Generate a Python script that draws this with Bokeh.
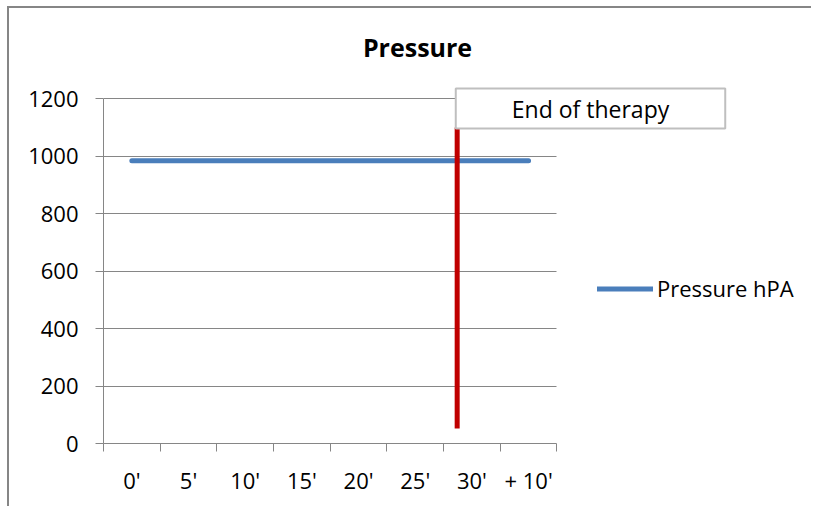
from bokeh.plotting import figure
from bokeh.models import (FixedTicker, Label, Legend, LegendItem, Range1d,
                          CustomJSTickFormatter)
from bokeh.embed import file_html
from bokeh.resources import INLINE

# ---- data ----
categories = ["0'", "5'", "10'", "15'", "20'", "25'", "30'", "+ 10'"]
pressure_hpa = [984, 984, 984, 984, 984, 984, 984, 984]
y_ticks = [0, 200, 400, 600, 800, 1000, 1200]
end_of_therapy_x = [5.74]      # between 25' and 30'
end_of_therapy_y0 = [52]
end_of_therapy_y1 = [1100]
series_name = "Pressure hPA"
chart_title = "Pressure"
marker_text = "End of therapy"

FONT = "Open Sans"
GRAY = "#868686"

n = len(categories)
xs = list(range(n))
x_lo, x_hi = -0.5, n - 0.5
y_lo, y_hi = y_ticks[0], y_ticks[-1]

# The frame spans the whole chart area (title, note box and legend live inside it);
# axes and grid are bounded to the data area.
p = figure(width=804, height=500, output_backend="svg", toolbar_location=None,
           title=None,
           x_range=Range1d(x_lo, 12.027), y_range=Range1d(y_lo, 1514),
           min_border_left=94, min_border_right=0, min_border_top=0,
           min_border_bottom=65)
p.styles = {"border-top": "2px solid #868686", "border-left": "2px solid #868686"}
p.margin = (6, 0, 0, 7)
p.outline_line_color = None
p.background_fill_color = "white"
p.border_fill_color = "white"

# grid
p.xgrid.grid_line_color = None
p.ygrid.ticker = FixedTicker(ticks=y_ticks)
p.ygrid.grid_line_color = GRAY
p.ygrid.grid_line_width = 1
if "cross_bounds" in p.ygrid[0].properties():
    p.ygrid.cross_bounds = (x_lo, x_hi)
else:
    p.ygrid.grid_line_color = None
    p.segment(x0=[x_lo] * len(y_ticks), y0=y_ticks, x1=[x_hi] * len(y_ticks),
              y1=y_ticks, line_color=GRAY, line_width=1)

# y axis
p.yaxis.ticker = FixedTicker(ticks=y_ticks)
p.yaxis.bounds = (y_lo, y_hi)
p.yaxis.axis_line_color = GRAY
p.yaxis.major_tick_line_color = GRAY
p.yaxis.major_tick_out = 8
p.yaxis.major_tick_in = 0
p.yaxis.minor_tick_line_color = None
p.yaxis.major_label_text_font = FONT
p.yaxis.major_label_text_font_size = "22px"
p.yaxis.major_label_text_color = "black"
p.yaxis.major_label_standoff = 17

# x axis: labels at category centres, tick marks at boundaries
bounds = [i - 0.5 for i in range(n + 1)]
p.xaxis.ticker = FixedTicker(ticks=xs, minor_ticks=bounds)
p.xaxis.bounds = (x_lo, x_hi)
p.xaxis.formatter = CustomJSTickFormatter(args=dict(labels=categories),
                                          code="return labels[Math.round(tick)]")
p.xaxis.axis_line_color = GRAY
p.xaxis.major_tick_line_color = None
p.xaxis.major_tick_out = 0
p.xaxis.major_tick_in = 0
p.xaxis.minor_tick_line_color = GRAY
p.xaxis.minor_tick_out = 8
p.xaxis.minor_tick_in = 0
p.xaxis.major_label_text_font = FONT
p.xaxis.major_label_text_font_size = "22px"
p.xaxis.major_label_text_color = "black"
p.xaxis.major_label_standoff = 13

# series
r = p.line(xs, pressure_hpa, line_width=5, line_color="#4A7EBB", line_cap="round")

# end of therapy marker
p.segment(x0=end_of_therapy_x, y0=end_of_therapy_y0, x1=end_of_therapy_x,
          y1=end_of_therapy_y1, line_color="#C00000", line_width=5)

# marker label box
p.add_layout(Label(x=487, y=335, x_units="screen", y_units="screen",
                   text=marker_text, text_font=FONT, text_font_size="23px",
                   text_align="center", text_baseline="middle", text_color="black",
                   background_fill_color="white", border_line_color="#BFBFBF",
                   border_line_width=2,
                   padding=dict(left=56, right=56, top=4, bottom=4)))

# title
p.add_layout(Label(x=314, y=397, x_units="screen", y_units="screen",
                   text=chart_title, text_font=FONT, text_font_size="25px",
                   text_font_style="bold", text_align="center",
                   text_baseline="middle", text_color="black"))

# legend
legend = Legend(items=[LegendItem(label=series_name, renderers=[r])],
                location=(494, 140), padding=0, margin=0, spacing=0,
                glyph_width=56, glyph_height=25, label_height=25,
                label_standoff=4,
                label_text_font=FONT, label_text_font_size="22px",
                label_text_color="black", border_line_color=None,
                background_fill_alpha=0)
p.add_layout(legend, "center")

open("out.html", "w").write(file_html(p, INLINE))
